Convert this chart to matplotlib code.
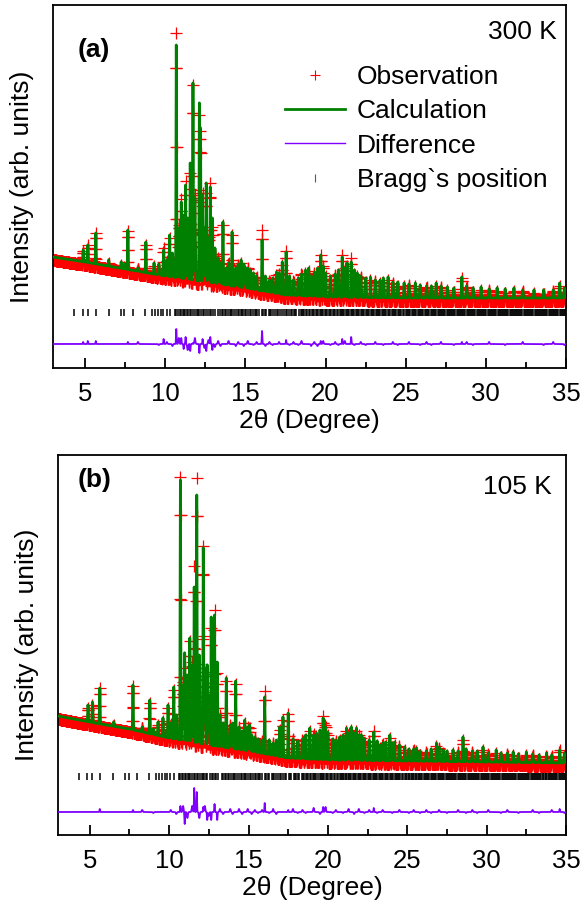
import numpy as np
import matplotlib
matplotlib.use('Agg')
import matplotlib.pyplot as plt
from matplotlib.lines import Line2D
from matplotlib.ticker import MultipleLocator

plt.rcParams['font.family'] = ['Liberation Sans', 'DejaVu Sans']

# ---------------- data ----------------
x_min, x_max, x_step = 3.0, 35.0, 0.01
x_ticks = [5, 10, 15, 20, 25, 30, 35]

bragg_pos = [4.33, 4.85, 5.17, 5.67, 6.47, 7.25, 7.46, 7.96, 8.74, 9.17, 9.38, 9.58, 9.72, 9.87,
             10.08, 10.30, 10.62, 10.70, 10.80, 10.90, 10.99, 11.08, 11.17, 11.26, 11.33, 11.42,
             11.55, 11.63, 11.73, 11.84, 11.96, 12.05, 12.13, 12.22, 12.33, 12.40, 12.55, 12.68,
             12.78, 12.86, 12.95, 13.08, 13.30, 13.42, 13.52, 13.60, 13.72, 13.80, 13.91, 14.02,
             14.10, 14.17, 14.28, 14.40, 14.52, 14.60, 14.70, 14.76, 14.85, 14.98, 15.07, 15.16,
             15.30, 15.38, 15.46, 15.58, 15.66, 15.74, 15.88, 16.02, 16.10, 16.22, 16.30, 16.45,
             16.53, 16.62, 16.75, 16.86, 16.97, 17.06, 17.17, 17.30, 17.38, 17.54, 17.62, 17.70,
             17.85, 17.93, 18.02, 18.10, 18.18, 18.35, 18.44, 18.52, 18.60, 18.68, 18.76, 18.86,
             18.95, 19.06, 19.14, 19.22, 19.28, 19.40, 19.48, 19.56, 19.63, 19.70, 19.78, 19.87,
             19.95, 20.03, 20.12, 20.20, 20.27, 20.36, 20.44, 20.55, 20.62, 20.74, 20.80, 20.88,
             20.96, 21.04, 21.12, 21.17, 21.26, 21.35, 21.42, 21.48, 21.56, 21.62, 21.70, 21.80,
             21.88, 21.95, 22.04, 22.11, 22.20, 22.28, 22.36, 22.43, 22.52, 22.60, 22.68, 22.74,
             22.82, 22.89, 22.97, 23.05, 23.12, 23.20, 23.26, 23.35, 23.42, 23.50, 23.57, 23.64,
             23.72, 23.80, 23.90, 23.97, 24.05, 24.12, 24.20, 24.28, 24.35, 24.42, 24.50, 24.57,
             24.64, 24.72, 24.84, 24.92, 25.00, 25.08, 25.14, 25.22, 25.30, 25.37, 25.45, 25.52,
             25.58, 25.66, 25.74, 25.80, 25.88, 25.95, 26.04, 26.10, 26.18, 26.25, 26.33, 26.40,
             26.48, 26.55, 26.62, 26.70, 26.76, 26.84, 26.92, 27.00, 27.07, 27.14, 27.20, 27.26,
             27.34, 27.41, 27.48, 27.55, 27.62, 27.70, 27.77, 27.83, 27.88, 27.96, 28.03, 28.10,
             28.18, 28.25, 28.32, 28.38, 28.45, 28.51, 28.58, 28.66, 28.73, 28.80, 28.86, 28.93,
             29.00, 29.07, 29.14, 29.21, 29.28, 29.35, 29.42, 29.48, 29.55, 29.62, 29.70, 29.77,
             29.84, 29.90, 29.97, 30.04, 30.11, 30.18, 30.25, 30.32, 30.38, 30.45, 30.52, 30.60,
             30.66, 30.73, 30.80, 30.87, 30.94, 31.00, 31.07, 31.14, 31.20, 31.27, 31.34, 31.41,
             31.48, 31.55, 31.61, 31.67, 31.74, 31.81, 31.88, 31.95, 32.02, 32.08, 32.15, 32.22,
             32.28, 32.35, 32.42, 32.50, 32.56, 32.63, 32.70, 32.77, 32.84, 32.90, 32.97, 33.04,
             33.11, 33.18, 33.24, 33.31, 33.38, 33.45, 33.52, 33.58, 33.65, 33.72, 33.77, 33.84,
             33.91, 33.98, 34.05, 34.12, 34.18, 34.25, 34.32, 34.39, 34.46, 34.53, 34.60, 34.67,
             34.74, 34.81, 34.88, 34.95]

# ---- panel (a) 300 K ----
a_bg_x = [3, 5, 7.5, 10, 12.5, 15, 17.5, 20, 25, 30, 35]
a_bg_y = [111, 106, 99, 92, 86, 80, 73, 71, 70, 70, 70]          # calculated background
a_obs_bg_y = [108, 103, 96, 89, 83, 77, 70, 68, 67, 67, 67]      # observed baseline (band centre)
a_pk_pos = [4.88, 5.17, 5.67, 6.47, 7.25, 7.46, 7.67, 8.79, 9.30, 9.90, 10.27, 10.69, 11.00,
            11.15, 11.27, 11.56, 11.73, 12.13, 12.20, 12.33, 12.56, 12.81, 12.94, 13.60, 13.80,
            14.17, 14.73, 15.00, 15.30, 16.04, 16.94, 17.30, 17.54, 18.75, 18.95, 19.70, 20.00,
            21.04, 21.35, 21.60, 21.98, 22.80, 23.40, 23.90, 24.90, 25.60, 26.90, 27.60, 28.50,
            29.70, 30.70, 31.75, 33.00, 34.60]
a_pk_calc = [118, 123, 135, 108, 106, 104, 138, 126, 105, 118, 133, 323, 166,
             153, 183, 205, 285, 265, 240, 173, 185, 181, 150, 146, 100,
             136, 108, 100, 98, 128, 96, 106, 116, 98, 100, 113, 95,
             111, 105, 106, 95, 91, 88, 91, 85, 85, 85, 81, 91,
             81, 80, 80, 78, 85]
a_pk_obs = [120, 126, 138, 108, 106, 104, 140, 126, 105, 123, 133, 338, 172,
            148, 190, 198, 286, 256, 240, 178, 178, 188, 144, 146, 100,
            136, 108, 100, 98, 141, 96, 106, 120, 98, 100, 116, 95,
            116, 105, 113, 95, 91, 88, 91, 85, 85, 85, 81, 93,
            81, 80, 80, 78, 85]
a_weak_pos = [8.30, 9.60, 10.10, 10.45, 10.85, 11.40, 11.85, 12.45, 12.70, 13.10, 13.30, 13.45,
              13.95, 14.40, 14.55, 14.90, 15.15, 15.50, 15.70, 16.25, 16.50, 16.70, 17.10, 17.75,
              18.00, 18.30, 18.50, 19.10, 19.30, 19.50, 19.85, 20.30, 20.60, 20.80, 21.20, 21.80,
              22.20, 22.50, 23.10, 23.60, 24.20, 24.50, 25.20, 25.90, 26.30, 26.60, 27.20, 28.00,
              28.80, 29.20, 30.20, 31.20, 32.30, 33.60, 34.20, 34.90]
a_weak_top = [100, 104, 108, 115, 140, 150, 170, 140, 130, 120, 110, 105,
              105, 100, 104, 104, 100, 95, 92, 92, 88, 90, 95, 92,
              88, 90, 94, 92, 96, 100, 102, 92, 94, 98, 100, 98,
              92, 90, 88, 90, 86, 86, 84, 83, 82, 82, 82, 80,
              82, 80, 79, 79, 78, 78, 78, 80]
a_weak_obs = [102, 103, 110, 113, 146, 144, 176, 136, 134, 117, 113, 103,
              108, 98, 106, 102, 103, 94, 94, 90, 90, 89, 97, 91,
              90, 89, 97, 90, 98, 98, 105, 91, 96, 97, 103, 97,
              94, 89, 90, 89, 88, 85, 86, 82, 84, 81, 84, 79,
              84, 79, 81, 78, 80, 77, 80, 79]

# ---- panel (b) 105 K ----
b_bg_x = [3, 5, 7.5, 10, 12.5, 15, 17.5, 20, 25, 30, 35]
b_bg_y = [119, 113, 106, 97, 90, 84, 77, 75, 74, 73, 72]
b_obs_bg_y = [116, 110, 103, 94, 87, 81, 74, 72, 71, 70, 69]
b_pk_pos = [4.89, 5.17, 5.63, 6.50, 7.72, 8.78, 9.30, 9.61, 9.93, 10.29, 10.71, 10.98, 11.30,
            11.58, 11.74, 12.15, 12.40, 12.65, 12.86, 13.03, 13.60, 14.19, 14.76, 15.07, 16.02,
            16.97, 17.17, 17.50, 18.86, 19.28, 19.70, 20.00, 20.74, 21.17, 21.48, 21.80, 22.11,
            22.89, 23.26, 23.64, 23.90, 24.20, 24.84, 25.58, 26.84, 27.26, 27.88, 28.51, 29.77,
            30.60, 31.67, 32.50, 33.77, 34.60]
b_pk_calc = [130, 133, 147, 113, 150, 135, 113, 117, 130, 148, 355, 182, 197,
             248, 340, 287, 170, 218, 220, 173, 157, 154, 115, 110, 138,
             108, 118, 122, 107, 102, 117, 103, 98, 107, 108, 107, 100,
             103, 90, 93, 100, 93, 88, 87, 92, 85, 85, 98, 88,
             85, 83, 83, 82, 85]
b_pk_obs = [130, 133, 150, 113, 152, 135, 113, 117, 130, 148, 361, 170, 197,
            272, 360, 292, 162, 210, 228, 165, 157, 154, 115, 110, 147,
            108, 118, 124, 107, 102, 122, 103, 98, 107, 108, 107, 100,
            107, 90, 93, 100, 93, 88, 87, 92, 85, 85, 98, 88,
            85, 83, 83, 82, 88]
b_weak_pos = [8.30, 9.00, 10.10, 10.45, 10.88, 11.15, 11.45, 11.90, 12.25, 12.50, 13.20, 13.40,
              13.85, 14.00, 14.40, 14.60, 14.95, 15.20, 15.40, 15.60, 15.85, 16.30, 16.55, 16.75,
              17.80, 18.10, 18.40, 18.60, 19.10, 19.50, 19.85, 20.30, 20.50, 20.95, 21.30, 21.65,
              21.95, 22.30, 22.60, 23.10, 23.45, 24.05, 24.50, 25.10, 25.40, 25.80, 26.20, 26.50,
              27.00, 27.50, 28.20, 28.70, 29.10, 29.40, 30.10, 30.90, 31.30, 32.00, 32.90, 33.30,
              34.10, 34.90]
b_weak_top = [108, 106, 112, 120, 150, 160, 170, 180, 160, 140, 120, 112,
              110, 112, 108, 104, 108, 100, 98, 96, 95, 95, 92, 95,
              96, 94, 96, 100, 100, 105, 108, 96, 95, 100, 102, 102,
              100, 96, 95, 94, 92, 92, 90, 86, 86, 84, 84, 86,
              88, 84, 84, 86, 84, 84, 82, 82, 82, 81, 81, 80,
              80, 82]
b_weak_obs = [110, 105, 114, 118, 156, 154, 176, 174, 166, 136, 123, 110,
              113, 110, 111, 102, 111, 98, 100, 95, 97, 94, 95, 93,
              99, 93, 98, 99, 104, 103, 113, 95, 97, 99, 105, 100,
              103, 95, 97, 93, 94, 91, 92, 85, 88, 83, 86, 85,
              90, 83, 86, 85, 86, 83, 84, 81, 84, 80, 83, 79,
              82, 81]

# ---------------- drawing ----------------
RED = '#ff0000'
GREEN = '#008000'
PURPLE = '#7f00ff'
SIG_PK = 0.018
SIG_WEAK = 0.03


def build(bg_x, bg_y, obs_bg_y, pk_pos, pk_calc, pk_obs, wk_pos, wk_top, wk_obs):
    x = np.arange(x_min, x_max + x_step / 2, x_step)
    calc = np.interp(x, bg_x, bg_y)
    obs = np.interp(x, bg_x, obs_bg_y)
    for sig, pos, tc, to in ((SIG_PK, pk_pos, pk_calc, pk_obs),
                             (SIG_WEAK, wk_pos, wk_top, wk_obs)):
        for p, hc, ho in zip(pos, tc, to):
            g = np.exp(-0.5 * ((x - p) / sig) ** 2)
            b0 = np.interp(p, bg_x, bg_y)
            calc += (hc - b0) * g
            obs += (ho - b0) * g
    return x, obs, calc


def draw(ax, data, bragg_y, diff_y, ylim):
    x, obs, calc = data
    ax.plot(x, obs, linestyle='none', marker='+', markersize=8.5, mew=0.9,
            color=RED, markeredgecolor=RED, zorder=2)
    ax.plot(x, calc, color=GREEN, lw=2.0, zorder=3)
    ax.plot(x, obs - calc + diff_y, color=PURPLE, lw=1.3, zorder=3)
    ax.vlines(bragg_pos, bragg_y - 3.5, bragg_y + 3.5, color='black', lw=1.1, zorder=3)
    ax.set_xlim(x_min, x_max)
    ax.set_ylim(*ylim)
    ax.set_xticks(x_ticks)
    ax.xaxis.set_minor_locator(MultipleLocator(2.5))
    ax.set_yticks([])
    ax.tick_params(axis='x', which='major', direction='in', length=7, width=1.3,
                   labelsize=18.5, pad=10)
    ax.tick_params(axis='x', which='minor', direction='in', length=4, width=1.3)
    for s in ax.spines.values():
        s.set_linewidth(1.3)
    ax.set_xlabel('2\u03b8 (Degree)', fontsize=19, labelpad=2)


W, H = 582, 906
fig = plt.figure(figsize=(W / 100, H / 100), dpi=100)
ax_a = fig.add_axes([53 / W, 1 - 368 / H, 513 / W, 363 / H])
ax_b = fig.add_axes([58 / W, 1 - 835 / H, 508 / W, 380 / H])

draw(ax_a, build(a_bg_x, a_bg_y, a_obs_bg_y, a_pk_pos, a_pk_calc, a_pk_obs,
                 a_weak_pos, a_weak_top, a_weak_obs), 56, 27, (0, 363))
draw(ax_b, build(b_bg_x, b_bg_y, b_obs_bg_y, b_pk_pos, b_pk_calc, b_pk_obs,
                 b_weak_pos, b_weak_top, b_weak_obs), 59, 26, (0, 380))

fig.text(22 / W, 1 - 186.5 / H, 'Intensity (arb. units)', rotation=90, fontsize=19,
         ha='center', va='center')
fig.text(27 / W, 1 - 645 / H, 'Intensity (arb. units)', rotation=90, fontsize=19,
         ha='center', va='center')

ax_a.text(0.0487, 0.876, '(a)', transform=ax_a.transAxes, fontsize=19, fontweight='bold',
          ha='left', va='center')
ax_b.text(0.039, 0.934, '(b)', transform=ax_b.transAxes, fontsize=19, fontweight='bold',
          ha='left', va='center')
ax_a.text(0.9825, 0.9256, '300 K', transform=ax_a.transAxes, fontsize=19, ha='right', va='center')
ax_b.text(0.9724, 0.9158, '105 K', transform=ax_b.transAxes, fontsize=19, ha='right', va='center')

handles = [
    Line2D([], [], linestyle='none', marker='+', markersize=7, mew=0.8, color=RED,
           markeredgecolor=RED),
    Line2D([], [], color=GREEN, lw=2.0),
    Line2D([], [], color=PURPLE, lw=1.0),
    Line2D([], [], linestyle='none', marker='|', markersize=6, mew=0.8, color='0.35',
           markeredgecolor='0.35'),
]
labels = ['Observation', 'Calculation', 'Difference', 'Bragg`s position']
ax_a.legend(handles, labels, loc='upper left', bbox_to_anchor=(285 / W, 1 - 65 / H),
            bbox_transform=fig.transFigure, frameon=False, fontsize=19, borderpad=0,
            borderaxespad=0, handlelength=2.27, handletextpad=0.45, labelspacing=0.39,
            numpoints=1)

fig.savefig('out.png', dpi=100)
